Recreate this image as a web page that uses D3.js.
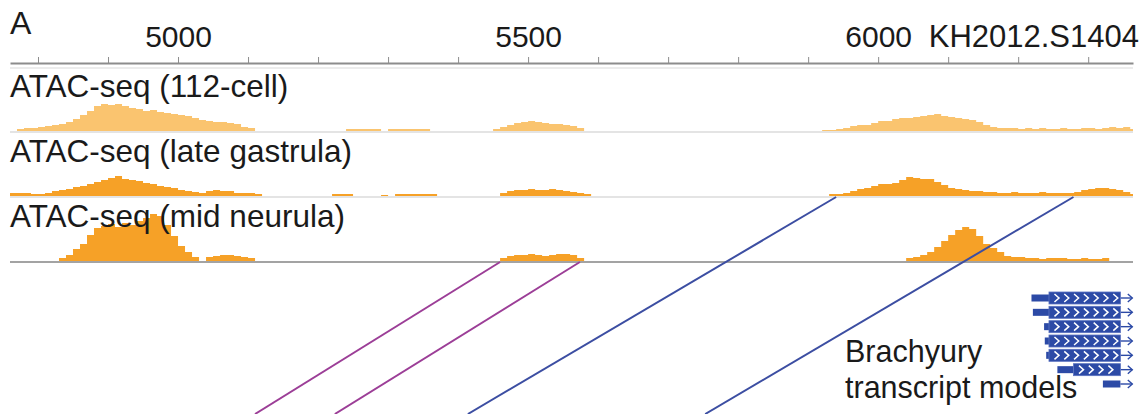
<!DOCTYPE html>
<html>
<head>
<meta charset="utf-8">
<script src="https://cdn.jsdelivr.net/npm/d3@7/dist/d3.min.js"></script>
<style>
body{margin:0;background:#fff;}
svg{display:block;font-family:"Liberation Sans",Arial,sans-serif;}
</style>
</head>
<body>
<script>
// genome window and ruler
var binStart = 4760, binSize = 10, regionEnd = 6364;
var tickValues = d3.range(4800, 6400, 100);
var tickLabels = [5000, 5500, 6000];
var contigName = "KH2012.S1404";

// ATAC-seq coverage, one value per 10 bp bin starting at 4760
var trackNames = ["ATAC-seq (112-cell)", "ATAC-seq (late gastrula)", "ATAC-seq (mid neurula)"];
var cell112 = [0,2,3,3,4,5,6,7,9,12, 16,20,25,27,26,27,25,23,22,20, 21,19,18,17,16,15,13,11,10,9,
  9,8,7,4,3,0,0,0,0,0, 0,0,0,0,0,0,0,0,2,2, 2,2,2,0,2,2,2,2,2,2, 0,0,0,0,0,0,0,0,0,2,
  4,6,8,9,10,9,8,7,7,6, 5,3,0,0,0,0,0,0,0,0, 0,0,0,0,0,0,0,0,0,0, 0,0,0,0,0,0,0,0,0,0,
  0,0,0,0,0,0,1,1,2,3, 5,6,6,8,10,10,12,13,13,14, 15,16,17,15,14,13,12,11,9,6,
  4,3,3,3,2,3,2,3,2,2, 3,2,2,3,3,2,3,4,3,4, 2];
var lateGastrula = [3,3,3,2,2,3,5,6,7,9, 10,12,14,16,18,20,17,16,15,13, 12,10,9,8,6,5,4,3,5,6,
  5,5,3,3,3,2,0,0,0,0, 0,0,0,0,0,0,2,2,2,0, 0,0,0,1,0,2,2,2,2,2, 2,0,0,0,0,0,0,0,0,0,
  3,5,6,6,7,6,6,7,6,5, 4,3,2,0,0,0,0,0,0,0, 0,0,0,0,0,0,0,0,0,0, 0,0,0,0,0,0,0,0,0,0,
  0,0,0,0,0,0,0,2,2,3, 5,7,8,10,12,12,13,16,19,18, 17,17,14,11,8,7,6,5,5,4,
  4,3,3,4,3,3,3,4,3,3, 3,3,4,6,7,8,8,7,6,4, 2];
var midNeurula = [0,0,0,0,0,0,0,3,6,12, 17,26,33,35,37,34,38,36,40,43, 47,45,36,25,15,9,4,0,4,5,
  6,6,5,4,3,0,0,0,0,0, 0,0,0,0,0,0,0,0,0,0, 0,0,0,0,0,0,0,0,0,0, 0,0,0,0,0,0,0,0,0,0,
  3,5,6,6,7,6,5,6,7,7, 6,3,0,0,0,0,0,0,0,0, 0,0,0,0,0,0,0,0,0,0, 0,0,0,0,0,0,0,0,0,0,
  0,0,0,0,0,0,0,0,0,0, 0,0,0,0,0,0,0,0,3,4, 6,9,14,20,26,31,34,32,25,17,
  13,9,5,4,4,3,3,2,3,3, 3,2,2,3,2,2,3,0,0,0, 0];
var trackValues = [cell112, lateGastrula, midNeurula];
var trackColors = ["#fac46f", "#f6a127", "#f6a127"];

// connectors from peaks down to the next panel
var connectorTop = [5460, 5574, 5940, 6279];
var connectorBottom = [5110, 5224, 5414, 5753];
var connectorTrack = [2, 2, 1, 1];
var connectorColors = ["#9c3e97", "#9c3e97", "#3c4ea2", "#3c4ea2"];

// Brachyury transcript models
var txUtrStart = [6219, 6221, 6237, 6238, 6240, 6256, 6321];
var txCdsStart = [6244, 6244, 6244, 6244, 6244, 6279, null];
var txEnd = 6346, txArrowEnd = 6363;

var width = 1143, height = 414;
var svg = d3.select("body").append("svg").attr("width", width).attr("height", height);

var x = d3.scaleLinear().domain([binStart, regionEnd]).range([10, 1133]);
var trackBase = d3.scaleLinear().domain([0, 2]).range([131, 261]);

svg.append("defs").append("clipPath").attr("id", "clip")
  .append("rect").attr("x", 10).attr("y", 0).attr("width", 1123).attr("height", height);

// ruler
svg.append("text").text("A")
  .attr("x", 10).attr("y", 34)
  .attr("font-size", 32).attr("fill", "#1a1a1a");

var axis = d3.axisTop(x)
  .tickValues(tickValues)
  .tickSizeInner(6).tickSizeOuter(0).tickPadding(10)
  .tickFormat(function(d){ return tickLabels.indexOf(d) >= 0 ? d : ""; });

var gAxis = svg.append("g").attr("transform", "translate(0,63)").call(axis);
gAxis.select(".domain").attr("stroke", "#8c8c8c").attr("stroke-width", 2);
gAxis.selectAll(".tick line").attr("stroke", "#8c8c8c").attr("stroke-width", 1);
gAxis.selectAll(".tick text").attr("font-size", 30).attr("fill", "#1a1a1a")
  .attr("font-family", "Liberation Sans, Arial, sans-serif");

svg.append("text").text(contigName)
  .attr("x", 1139).attr("y", 47)
  .attr("text-anchor", "end")
  .attr("font-size", 31).attr("fill", "#1a1a1a");

svg.append("line")
  .attr("x1", 10).attr("x2", 1133).attr("y1", 68).attr("y2", 68)
  .attr("stroke", "#ececec").attr("stroke-width", 2);

// coverage tracks
trackValues.forEach(function(vals, t){
  var base = trackBase(t);
  var y = d3.scaleLinear().domain([0, 50]).range([base, base - 50]);
  var pts = vals.map(function(v, i){ return {bp: binStart + i * binSize, v: v}; });
  pts.push({bp: binStart + vals.length * binSize, v: vals[vals.length - 1]});

  svg.append("line")
    .attr("x1", 10).attr("x2", 1133).attr("y1", base + 1).attr("y2", base + 1)
    .attr("stroke", t == 2 ? "#a3a3a3" : "#e4e4e4")
    .attr("stroke-width", 2);

  svg.append("path")
    .datum(pts)
    .attr("clip-path", "url(#clip)")
    .attr("fill", trackColors[t])
    .attr("d", d3.area()
      .curve(d3.curveStepAfter)
      .x(function(d){ return x(d.bp); })
      .y0(base)
      .y1(function(d){ return y(d.v); }));

  svg.append("text").text(trackNames[t])
    .attr("x", 10).attr("y", base - 34)
    .attr("font-size", 31.5).attr("fill", "#1a1a1a");
});

// connector lines
svg.selectAll("line.connector")
  .data(connectorTop)
  .enter().append("line")
  .attr("class", "connector")
  .attr("x1", function(d){ return x(d); })
  .attr("y1", function(d, i){ return trackBase(connectorTrack[i]) + 1; })
  .attr("x2", function(d, i){ return x(connectorBottom[i]); })
  .attr("y2", height)
  .attr("stroke", function(d, i){ return connectorColors[i]; })
  .attr("stroke-width", 2);

// transcript models
var blue = "#2c4aa6";
var row = d3.scalePoint().domain(d3.range(txUtrStart.length)).range([298, 384]);

var tx = svg.selectAll("g.tx")
  .data(txUtrStart)
  .enter().append("g")
  .attr("class", "tx")
  .attr("transform", function(d, i){ return "translate(0," + row(i) + ")"; });

tx.append("line")
  .attr("x1", x(txEnd)).attr("x2", x(txArrowEnd))
  .attr("stroke", blue).attr("stroke-width", 1.4);
tx.append("polyline")
  .attr("points", (x(txArrowEnd) - 4.5) + ",-4 " + x(txArrowEnd) + ",0 " + (x(txArrowEnd) - 4.5) + ",4")
  .attr("fill", "none").attr("stroke", blue).attr("stroke-width", 1.4);

tx.append("rect")
  .attr("x", function(d){ return x(d); })
  .attr("y", -3.5)
  .attr("width", function(d, i){ return x(txCdsStart[i] || txEnd) - x(d); })
  .attr("height", 7)
  .attr("fill", blue);

tx.filter(function(d, i){ return txCdsStart[i] != null; })
  .each(function(d){
    var g = d3.select(this);
    var k = txUtrStart.indexOf(d);
    var x0 = x(txCdsStart[k]), x1 = x(txEnd);
    g.append("rect")
      .attr("x", x0).attr("y", -6)
      .attr("width", x1 - x0).attr("height", 12)
      .attr("fill", blue)
      .attr("stroke", "#5a72c0").attr("stroke-width", 0.8);
    g.selectAll("polyline.chev")
      .data(d3.range(x0 + 8, x1 - 3, 9.8))
      .enter().append("polyline")
      .attr("class", "chev")
      .attr("points", function(c){ return (c - 2.5) + ",-4 " + (c + 2) + ",0 " + (c - 2.5) + ",4"; })
      .attr("fill", "none").attr("stroke", "#fff").attr("stroke-width", 1.5);
  });

svg.append("text")
  .attr("font-size", 30.5).attr("fill", "#1a1a1a")
  .selectAll("tspan")
  .data(["Brachyury", "transcript models"])
  .enter().append("tspan")
  .attr("x", 845)
  .attr("y", function(d, i){ return 362 + i * 36; })
  .text(function(d){ return d; });
</script>
</body>
</html>
